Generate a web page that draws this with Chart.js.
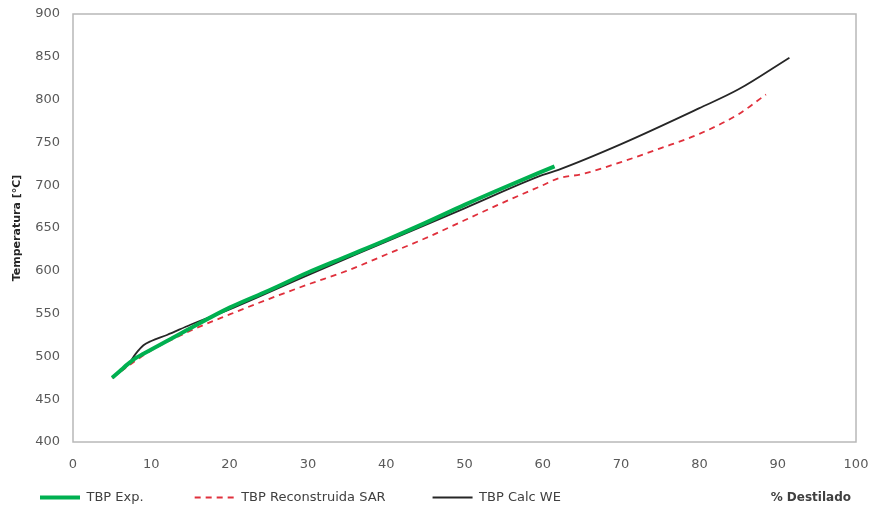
<!DOCTYPE html>
<html>
<head>
<meta charset="utf-8">
<script src="https://cdn.jsdelivr.net/npm/chart.js@4.4.1/dist/chart.umd.min.js"></script>
<style>
  html, body { margin: 0; padding: 0; background: #fff; }
  #wrap { width: 880px; height: 508px; }
</style>
</head>
<body>
<div id="wrap"><canvas id="tbp"></canvas></div>
<script>
// TBP curves — % destilado vs temperatura
const expX = [5, 6, 7, 8, 9, 10, 12, 15, 20, 25, 30, 35, 40, 45, 50, 55, 61.5];
const expT = [475, 483, 491, 498, 503, 508, 518, 533, 557, 577, 598, 617, 636, 656, 677, 697, 722];

const sarX = [5, 8, 10, 15, 20, 25, 30, 35, 40, 45, 50, 55, 60, 62, 65, 70, 75, 80, 85, 88.5];
const sarT = [475, 495, 507, 530, 549, 567, 584, 600, 619, 638, 659, 680, 700, 708, 713, 727, 743, 760, 783, 806];

const weX = [5, 7, 8, 9, 10, 12, 15, 20, 30, 40, 50, 60, 62, 70, 80, 85, 91.5];
const weT = [475, 490, 503, 513, 518, 525, 537, 555, 595, 634, 673, 712, 718, 748, 790, 812, 849];

const xTicks = [0, 10, 20, 30, 40, 50, 60, 70, 80, 90, 100];
const yTicks = [400, 450, 500, 550, 600, 650, 700, 750, 800, 850, 900];

function pts(xs, ys) {
  return xs.map((x, i) => ({ x: x, y: ys[i] }));
}

const FONT = "'DejaVu Sans', sans-serif";
// Excel spreads the legend entries wider than Chart.js does
const legendGap = [8, 7, 0];

// light frame round the plot area, as in the Excel original
const frame = {
  id: 'frame',
  beforeDatasetsDraw(chart) {
    const a = chart.chartArea, c = chart.ctx;
    c.save();
    c.strokeStyle = '#b8b8b8';
    c.lineWidth = 1.5;
    c.strokeRect(a.left, a.top, a.right - a.left, a.bottom - a.top);
    c.restore();
  }
};

// x axis title sits at the right, on the legend line
const xTitle = {
  id: 'xTitle',
  afterDraw(chart) {
    const c = chart.ctx;
    const hb = chart.legend.legendHitBoxes[0];
    c.save();
    c.font = "bold 12px " + FONT;
    c.fillStyle = '#404040';
    c.textAlign = 'right';
    c.textBaseline = 'middle';
    c.fillText('% Destilado', 851, hb.top + hb.height / 2);
    c.restore();
  }
};

new Chart(document.getElementById('tbp').getContext('2d'), {
  type: 'line',
  data: {
    datasets: [
      {
        label: 'TBP Exp.',
        data: pts(expX, expT),
        borderColor: '#00b050',
        borderWidth: 4,
        pointRadius: 0,
        cubicInterpolationMode: 'monotone',
        fill: false
      },
      {
        label: 'TBP Reconstruida SAR',
        data: pts(sarX, sarT),
        borderColor: '#e0303c',
        borderWidth: 1.8,
        borderDash: [6, 5],
        pointRadius: 0,
        cubicInterpolationMode: 'monotone',
        fill: false
      },
      {
        label: 'TBP Calc WE',
        data: pts(weX, weT),
        borderColor: '#262626',
        borderWidth: 1.8,
        pointRadius: 0,
        cubicInterpolationMode: 'monotone',
        fill: false
      }
    ]
  },
  options: {
    responsive: true,
    maintainAspectRatio: false,
    animation: false,
    layout: { padding: { top: 14, right: 24, left: 22, bottom: 0 } },
    plugins: {
      tooltip: { enabled: false },
      legend: {
        position: 'bottom',
        align: 'start',
        maxHeight: 35,
        labels: {
          usePointStyle: true,
          pointStyle: 'line',
          pointStyleWidth: 40,
          padding: 18,
          color: '#404040',
          font: { family: FONT, size: 13 },
          generateLabels(chart) {
            const items = Chart.defaults.plugins.legend.labels.generateLabels(chart);
            items.forEach(it => {
              const ds = chart.data.datasets[it.datasetIndex];
              it.lineDash = ds.borderDash || [];
              it.lineWidth = ds.borderWidth;
              it.strokeStyle = ds.borderColor;
              it.text = it.text + '\u00a0'.repeat(legendGap[it.datasetIndex]);
            });
            return items;
          }
        }
      }
    },
    scales: {
      x: {
        type: 'linear',
        min: 0,
        max: 100,
        afterBuildTicks: s => { s.ticks = xTicks.map(v => ({ value: v })); },
        afterFit: s => { s.height = 31; s.paddingLeft = 0; s.paddingRight = 0; },
        grid: { display: false, drawTicks: false },
        border: { display: false },
        ticks: { padding: 15, color: '#595959', font: { family: FONT, size: 13 } }
      },
      y: {
        min: 400,
        max: 900,
        afterBuildTicks: s => { s.ticks = yTicks.map(v => ({ value: v })); },
        afterFit: s => { s.width = 51; s.paddingTop = 0; s.paddingBottom = 0; },
        grid: { display: false, drawTicks: false },
        border: { display: false },
        title: {
          display: true,
          text: 'Temperatura [°C]',
          color: '#262626',
          font: { family: FONT, size: 11, weight: 'bold' },
          padding: { top: -11, bottom: 0 }
        },
        ticks: { padding: 13, color: '#595959', font: { family: FONT, size: 13 } }
      }
    }
  },
  plugins: [frame, xTitle]
});
</script>
</body>
</html>
